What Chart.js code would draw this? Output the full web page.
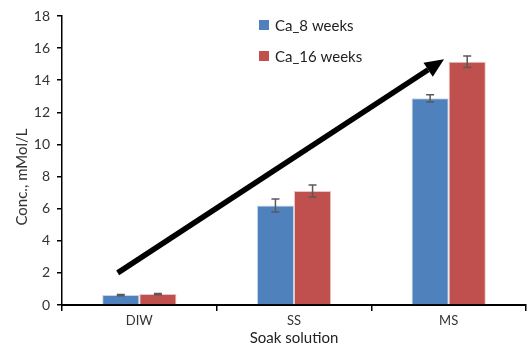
<!DOCTYPE html>
<html lang="en">
<head>
    <meta charset="UTF-8">
    <title>Ca concentration</title>
    <script src="https://cdn.jsdelivr.net/npm/chart.js@4.4.1/dist/chart.umd.min.js"></script>
    <style>
        html, body { margin: 0; padding: 0; background: #fff; }
        #wrap { width: 527px; height: 347px; }
    </style>
</head>
<body>
    <div id="wrap"><canvas id="chart" width="527" height="347"></canvas></div>
    <script>
        // data
        const categories = ['DIW', 'SS', 'MS'];
        const seriesLabels = ['Ca_8 weeks', 'Ca_16 weeks'];
        const ca8 = [0.62, 6.2, 12.87];
        const ca16 = [0.68, 7.1, 15.15];
        const err8 = [0.04, 0.4, 0.23];
        const err16 = [0.04, 0.37, 0.36];
        const yTicks = [0, 2, 4, 6, 8, 10, 12, 14, 16, 18];
        const yTitle = 'Conc., mMol/L';
        // trend arrow, in [category index, value]
        const arrowFrom = [-0.14, 2.0];
        const arrowTo = [1.97, 15.3];

        const font = 'Lato, "Open Sans", sans-serif';

        // error bars drawn on top of each bar
        const errorBars = {
            id: 'errorBars',
            afterDatasetsDraw(chart) {
                const ctx = chart.ctx;
                const y = chart.scales.y;
                const errs = [err8, err16];
                ctx.save();
                ctx.strokeStyle = '#595959';
                ctx.lineWidth = 1.5;
                chart.data.datasets.forEach((ds, di) => {
                    chart.getDatasetMeta(di).data.forEach((bar, i) => {
                        const v = ds.data[i], e = errs[di][i];
                        const top = y.getPixelForValue(v + e);
                        const bot = y.getPixelForValue(v - e);
                        ctx.beginPath();
                        ctx.moveTo(bar.x, top); ctx.lineTo(bar.x, bot);
                        ctx.moveTo(bar.x - 4, top); ctx.lineTo(bar.x + 4, top);
                        ctx.moveTo(bar.x - 4, bot); ctx.lineTo(bar.x + 4, bot);
                        ctx.stroke();
                    });
                });
                ctx.restore();
            }
        };

        const trendArrow = {
            id: 'trendArrow',
            afterDraw(chart) {
                const ctx = chart.ctx;
                const x = chart.scales.x, y = chart.scales.y;
                const x1 = x.getPixelForValue(arrowFrom[0]), y1 = y.getPixelForValue(arrowFrom[1]);
                const x2 = x.getPixelForValue(arrowTo[0]), y2 = y.getPixelForValue(arrowTo[1]);
                const ang = Math.atan2(y2 - y1, x2 - x1);
                const headLen = 19, headW = 8.5;
                const bx = x2 - headLen * Math.cos(ang), by = y2 - headLen * Math.sin(ang);
                ctx.save();
                ctx.strokeStyle = '#000';
                ctx.fillStyle = '#000';
                ctx.lineWidth = 5.5;
                ctx.beginPath();
                ctx.moveTo(x1, y1); ctx.lineTo(bx, by);
                ctx.stroke();
                ctx.beginPath();
                ctx.moveTo(x2, y2);
                ctx.lineTo(bx + headW * Math.sin(ang), by - headW * Math.cos(ang));
                ctx.lineTo(bx - headW * Math.sin(ang), by + headW * Math.cos(ang));
                ctx.closePath();
                ctx.fill();
                ctx.restore();
            }
        };

        // legend stacked like the original, plus the y title (sits a bit low in the original)
        const extras = {
            id: 'extras',
            afterDraw(chart) {
                const ctx = chart.ctx;
                ctx.save();
                ctx.font = '15px ' + font;
                ctx.textBaseline = 'middle';
                chart.data.datasets.forEach((ds, i) => {
                    const cy = 25 + i * 31;
                    ctx.fillStyle = ds.backgroundColor;
                    ctx.fillRect(259, cy - 5, 10, 10);
                    ctx.fillStyle = '#222';
                    ctx.fillText(ds.label, 275, cy + 1);
                });
                ctx.translate(22, 177);
                ctx.rotate(-Math.PI / 2);
                ctx.textAlign = 'center';
                ctx.fillStyle = '#333';
                ctx.fillText(yTitle, 0, 0);
                ctx.restore();
            }
        };

        new Chart(document.getElementById('chart'), {
            type: 'bar',
            data: {
                labels: categories,
                datasets: [
                    { label: seriesLabels[0], data: ca8, backgroundColor: '#4F81BD', borderColor: '#C6D6EA', borderWidth: 1 },
                    { label: seriesLabels[1], data: ca16, backgroundColor: '#C0504D', borderColor: '#E8C4C3', borderWidth: 1 }
                ]
            },
            options: {
                responsive: false,
                animation: false,
                layout: { padding: { top: 16, right: 1, left: 0, bottom: 0 } },
                datasets: { bar: { categoryPercentage: 0.48, barPercentage: 1 } },
                plugins: {
                    legend: { display: false },
                    tooltip: { enabled: false }
                },
                scales: {
                    x: {
                        grid: { offset: true, drawOnChartArea: false, tickLength: 6, color: '#000', lineWidth: 1.5 },
                        border: { color: '#000', width: 2 },
                        ticks: { color: '#333', font: { family: font, size: 13 }, padding: 2 },
                        title: { display: true, text: 'Soak solution', color: '#222', font: { family: font, size: 15 }, padding: { top: -3, bottom: 0 } },
                        afterFit(s) { s.height = 42; }
                    },
                    y: {
                        min: 0, max: 18,
                        afterBuildTicks(s) { s.ticks = yTicks.map(v => ({ value: v })); },
                        grid: { drawOnChartArea: false, tickLength: 5, color: '#000', lineWidth: 1.5 },
                        border: { color: '#000', width: 1.5 },
                        ticks: { color: '#333', font: { family: font, size: 14 }, padding: 7 },
                        afterFit(s) { s.width = 62; }
                    }
                }
            },
            plugins: [errorBars, trendArrow, extras]
        });
    </script>
</body>
</html>
